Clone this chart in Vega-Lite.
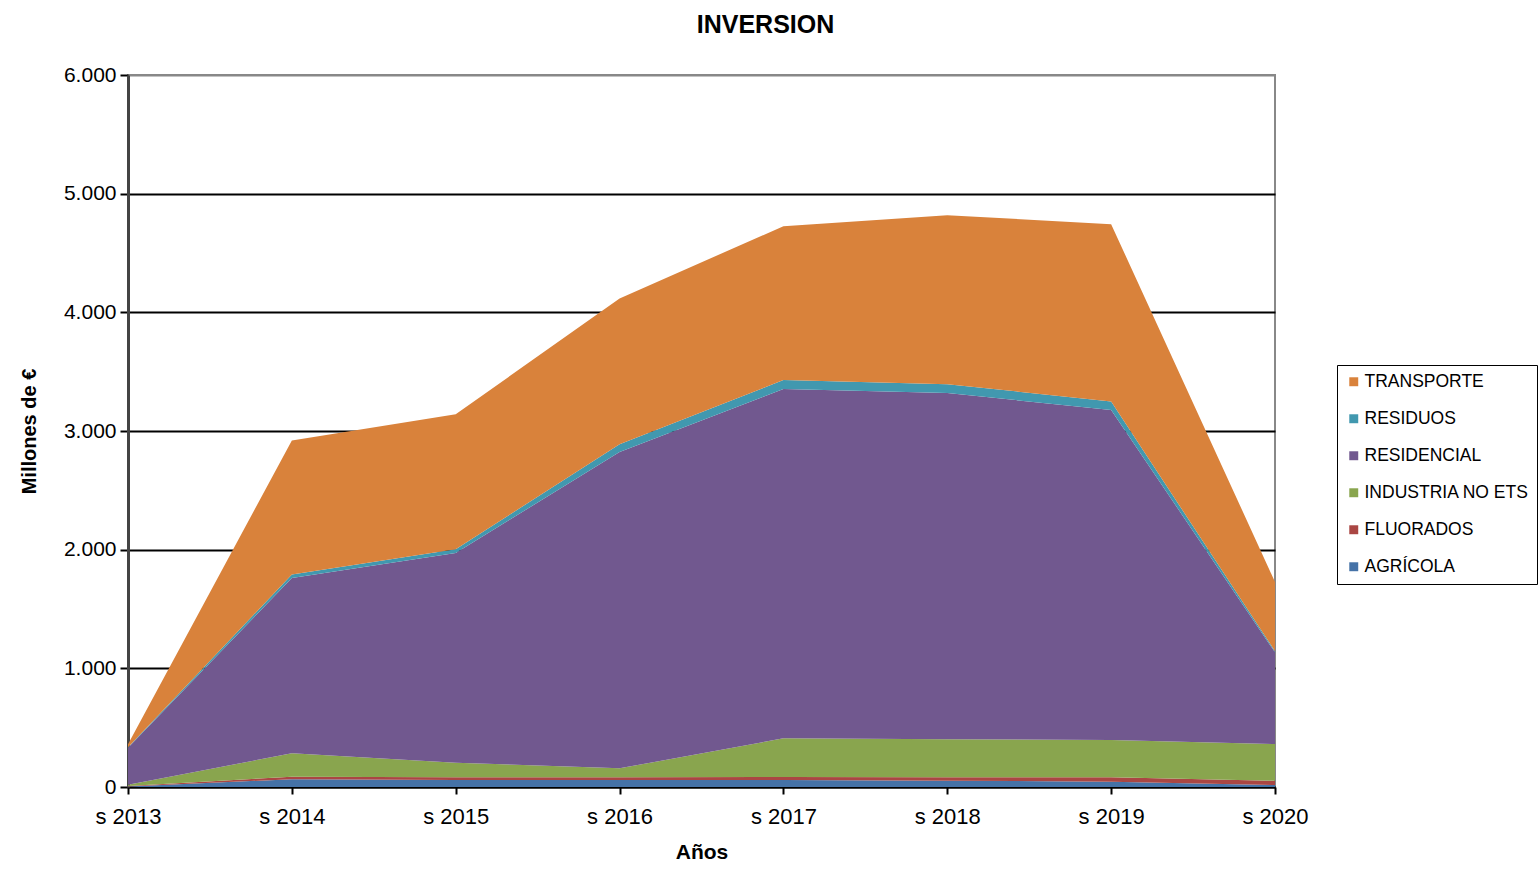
{
  "$schema": "https://vega.github.io/schema/vega-lite/v6.json",
  "width": 1147,
  "height": 712,
  "autosize": {"type": "none"},
  "padding": {"left": 128, "top": 75, "right": 265, "bottom": 83},
  "background": "white",
  "title": {"text": "INVERSION", "font": "Liberation Sans", "fontSize": 25, "fontWeight": "bold", "color": "#000000", "dx": 64, "offset": 26},
  "data": {"values": [
    {"year": 2013, "sector": "AGRÍCOLA", "o": 1, "v": 5},
    {"year": 2014, "sector": "AGRÍCOLA", "o": 1, "v": 65},
    {"year": 2015, "sector": "AGRÍCOLA", "o": 1, "v": 59},
    {"year": 2016, "sector": "AGRÍCOLA", "o": 1, "v": 59},
    {"year": 2017, "sector": "AGRÍCOLA", "o": 1, "v": 59},
    {"year": 2018, "sector": "AGRÍCOLA", "o": 1, "v": 53},
    {"year": 2019, "sector": "AGRÍCOLA", "o": 1, "v": 45},
    {"year": 2020, "sector": "AGRÍCOLA", "o": 1, "v": 17},
    {"year": 2013, "sector": "FLUORADOS", "o": 2, "v": 3},
    {"year": 2014, "sector": "FLUORADOS", "o": 2, "v": 22},
    {"year": 2015, "sector": "FLUORADOS", "o": 2, "v": 23},
    {"year": 2016, "sector": "FLUORADOS", "o": 2, "v": 23},
    {"year": 2017, "sector": "FLUORADOS", "o": 2, "v": 25},
    {"year": 2018, "sector": "FLUORADOS", "o": 2, "v": 29},
    {"year": 2019, "sector": "FLUORADOS", "o": 2, "v": 37},
    {"year": 2020, "sector": "FLUORADOS", "o": 2, "v": 36},
    {"year": 2013, "sector": "INDUSTRIA NO ETS", "o": 3, "v": 10},
    {"year": 2014, "sector": "INDUSTRIA NO ETS", "o": 3, "v": 197},
    {"year": 2015, "sector": "INDUSTRIA NO ETS", "o": 3, "v": 123},
    {"year": 2016, "sector": "INDUSTRIA NO ETS", "o": 3, "v": 75},
    {"year": 2017, "sector": "INDUSTRIA NO ETS", "o": 3, "v": 326},
    {"year": 2018, "sector": "INDUSTRIA NO ETS", "o": 3, "v": 320},
    {"year": 2019, "sector": "INDUSTRIA NO ETS", "o": 3, "v": 314},
    {"year": 2020, "sector": "INDUSTRIA NO ETS", "o": 3, "v": 309},
    {"year": 2013, "sector": "RESIDENCIAL", "o": 4, "v": 312},
    {"year": 2014, "sector": "RESIDENCIAL", "o": 4, "v": 1477},
    {"year": 2015, "sector": "RESIDENCIAL", "o": 4, "v": 1767},
    {"year": 2016, "sector": "RESIDENCIAL", "o": 4, "v": 2666},
    {"year": 2017, "sector": "RESIDENCIAL", "o": 4, "v": 2944},
    {"year": 2018, "sector": "RESIDENCIAL", "o": 4, "v": 2918},
    {"year": 2019, "sector": "RESIDENCIAL", "o": 4, "v": 2781},
    {"year": 2020, "sector": "RESIDENCIAL", "o": 4, "v": 773},
    {"year": 2013, "sector": "RESIDUOS", "o": 5, "v": 5},
    {"year": 2014, "sector": "RESIDUOS", "o": 5, "v": 30},
    {"year": 2015, "sector": "RESIDUOS", "o": 5, "v": 32},
    {"year": 2016, "sector": "RESIDUOS", "o": 5, "v": 65},
    {"year": 2017, "sector": "RESIDUOS", "o": 5, "v": 75},
    {"year": 2018, "sector": "RESIDUOS", "o": 5, "v": 75},
    {"year": 2019, "sector": "RESIDUOS", "o": 5, "v": 72},
    {"year": 2020, "sector": "RESIDUOS", "o": 5, "v": 10},
    {"year": 2013, "sector": "TRANSPORTE", "o": 6, "v": 25},
    {"year": 2014, "sector": "TRANSPORTE", "o": 6, "v": 1129},
    {"year": 2015, "sector": "TRANSPORTE", "o": 6, "v": 1137},
    {"year": 2016, "sector": "TRANSPORTE", "o": 6, "v": 1229},
    {"year": 2017, "sector": "TRANSPORTE", "o": 6, "v": 1297},
    {"year": 2018, "sector": "TRANSPORTE", "o": 6, "v": 1424},
    {"year": 2019, "sector": "TRANSPORTE", "o": 6, "v": 1494},
    {"year": 2020, "sector": "TRANSPORTE", "o": 6, "v": 583}
  ]},
  "mark": {"type": "area", "interpolate": "linear", "opacity": 1},
  "encoding": {
    "x": {
      "field": "year", "type": "quantitative",
      "scale": {"domain": [2013, 2020], "nice": false, "zero": false},
      "axis": {
        "title": "Años", "values": [2013, 2014, 2015, 2016, 2017, 2018, 2019, 2020],
        "labelExpr": "'s ' + datum.value", "labelFlush": false,
        "grid": false, "domainColor": "#000000", "domainWidth": 2,
        "tickColor": "#000000", "tickWidth": 2, "tickSize": 7,
        "labelFont": "Liberation Sans", "labelFontSize": 22, "labelColor": "#000000", "labelPadding": 12,
        "titleFont": "Liberation Sans", "titleFontSize": 21, "titleFontWeight": "bold", "titleColor": "#000000", "titlePadding": 14
      }
    },
    "y": {
      "field": "v", "type": "quantitative", "stack": "zero",
      "scale": {"domain": [0, 6000], "nice": false},
      "axis": {
        "title": "Millones de €", "values": [0, 1000, 2000, 3000, 4000, 5000, 6000],
        "labelExpr": "replace(format(datum.value, ','), ',', '.')",
        "grid": true,
        "gridColor": {"condition": {"test": "datum.value == 6000", "value": "#888888"}, "value": "#000000"},
        "gridWidth": 2, "gridOpacity": 1,
        "domainColor": "#444444", "domainWidth": 3,
        "tickColor": "#000000", "tickWidth": 2, "tickSize": 8,
        "labelFont": "Liberation Sans", "labelFontSize": 21, "labelColor": "#000000", "labelPadding": 4,
        "titleFont": "Liberation Sans", "titleFontSize": 20, "titleFontWeight": "bold", "titleColor": "#000000", "titlePadding": 24
      }
    },
    "color": {
      "field": "sector", "type": "nominal",
      "scale": {
        "domain": ["TRANSPORTE", "RESIDUOS", "RESIDENCIAL", "INDUSTRIA NO ETS", "FLUORADOS", "AGRÍCOLA"],
        "range": ["#D9823B", "#4198AF", "#71588F", "#89A54E", "#AA4643", "#4572A7"]
      },
      "legend": {
        "title": null, "orient": "none", "legendX": 1209, "legendY": 290,
        "symbolType": "square", "symbolSize": 80, "symbolStrokeWidth": 0,
        "labelFont": "Liberation Sans", "labelFontSize": 17.5, "labelColor": "#000000",
        "rowPadding": 18, "labelOffset": 2,
        "strokeColor": "#000000", "padding": 8,
        "labelLimit": 220
      }
    },
    "order": {"field": "o", "type": "quantitative", "sort": "ascending"}
  },
  "config": {
    "view": {"stroke": "#888888", "strokeWidth": 2},
    "legend": {"fillColor": "white"}
  }
}
